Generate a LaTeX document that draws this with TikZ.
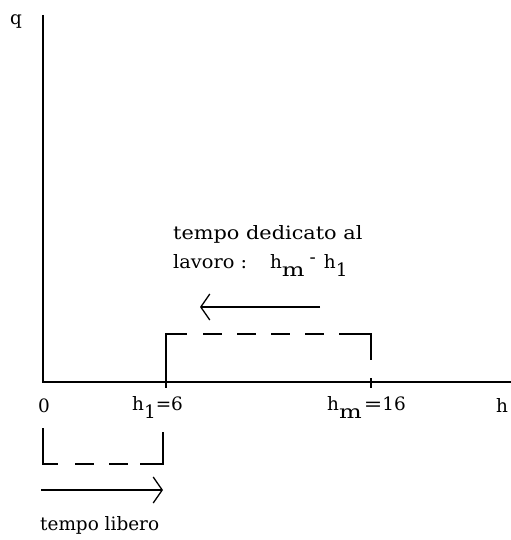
\documentclass[tikz,border=0pt]{standalone}
\usepackage{fontspec}
\setmainfont{DejaVu Serif}
\usetikzlibrary{arrows.meta}
\newcommand{\sbx}[1]{\raisebox{-0.85ex}{\fontsize{18.5}{22}\selectfont #1}}
\newcommand{\wm}{\scalebox{1.3}[1]{m}}
\begin{document}
\begin{tikzpicture}[x=1bp,y=-1bp,
  axis/.style={line width=1.4bp, black},
  brk/.style={line width=1.6bp, black, dash pattern=on 19bp off 15bp},
  solidline/.style={line width=1.6bp, black},
  arr/.style={line width=1.3bp, black, -{Straight Barb[length=9bp,width=26bp,line width=1.3bp]}},
  lbl/.style={anchor=base west, inner sep=0pt, font=\fontsize{18.5}{22}\selectfont}
]
\useasboundingbox (0,0) rectangle (511,540);
% axes
\coordinate (O) at (43,382);
\coordinate (ytop) at (43,15);
\coordinate (xend) at (511,382);
\draw[axis] (ytop) -- (O) -- (xend);
% ticks
\coordinate (t1a) at (166,378); \coordinate (t1b) at (166,388);
\coordinate (tma) at (371,378); \coordinate (tmb) at (371,388);
\draw[axis] (t1a) -- (t1b);
\draw[axis] (tma) -- (tmb);
% upper dashed bracket
\coordinate (u1) at (166,382); \coordinate (u2) at (166,334);
\coordinate (u3) at (371,334); \coordinate (u4) at (371,360);
\draw[solidline] (u1) -- (u2) -- (187,334);
\draw[brk] (203,334) -- (347,334);
\draw[solidline] (347,334) -- (u3) -- (u4);
% upper arrow
\coordinate (a1) at (320,307); \coordinate (a2) at (200,307);
\draw[arr] (a1) -- (a2);
% lower dashed bracket
\coordinate (l1) at (43,428); \coordinate (l2) at (43,464);
\coordinate (l3) at (163,464); \coordinate (l4) at (163,432);
\draw[solidline] (l1) -- (l2) -- (58,464);
\draw[brk] (75,464) -- (140,464);
\draw[solidline] (140,464) -- (l3) -- (l4);
% lower arrow
\coordinate (b1) at (41,490); \coordinate (b2) at (163,490);
\draw[arr] (b1) -- (b2);
% labels
\node[lbl] (q) at (10,25) {q};
\node[lbl] (zero) at (38,412) {0};
\node[lbl] (h1) at (132,410) {h\sbx{1}=6};
\node[lbl] (hm) at (327,410) {h\sbx{\wm}\hspace{2bp}\scalebox{1.2}[1]{=}16};
\node[lbl] (h) at (496,412) {h};
\node[lbl] (t1) at (173,239) {\scalebox{1.13}[1]{tempo dedicato al}};
\node[lbl] (t2) at (173,268) {\scalebox{1.05}[1]{lavoro :}\hspace{23bp}h\sbx{\wm}\hspace{5bp}\raisebox{0.5ex}{-}\hspace{8bp}h\sbx{1}};
\node[lbl] (tl) at (40,530) {tempo libero};
\end{tikzpicture}
\end{document}
